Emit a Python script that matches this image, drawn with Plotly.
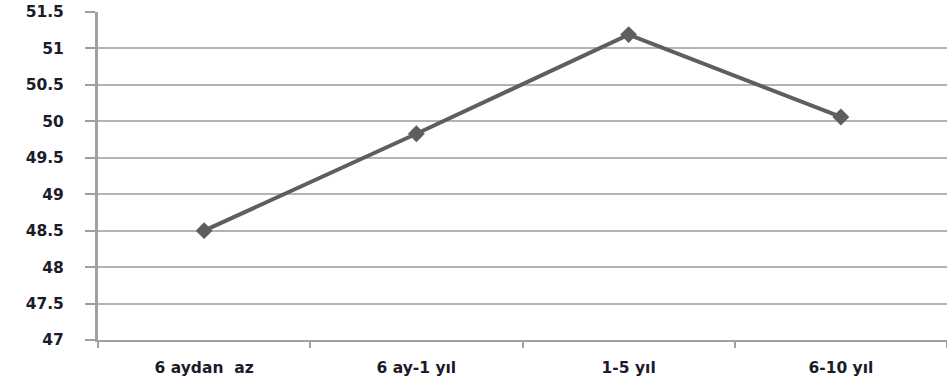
import plotly.graph_objects as go

# Süreye göre ortalama puanlar
categories = ["6 aydan  az", "6 ay-1 yıl", "1-5 yıl", "6-10 yıl"]
values = [48.5, 49.83, 51.19, 50.06]
y_ticks = [47, 47.5, 48, 48.5, 49, 49.5, 50, 50.5, 51, 51.5]
y_tick_text = ["47", "47.5", "48", "48.5", "49", "49.5", "50", "50.5", "51", "51.5"]

fig = go.Figure()
fig.add_trace(go.Scatter(
    x=categories,
    y=values,
    mode="lines+markers",
    line=dict(color="#5e5e5e", width=4),
    marker=dict(symbol="diamond", size=13, color="#5e5e5e"),
    showlegend=False,
    cliponaxis=False,
))

font = dict(family="DejaVu Sans, Verdana, sans-serif", size=15.5, color="#1b1b2a", weight="bold")

fig.update_layout(
    width=947,
    height=378,
    margin=dict(l=98, r=0, t=12, b=38),
    paper_bgcolor="white",
    plot_bgcolor="white",
    font=font,
    xaxis=dict(
        type="category",
        range=[-0.5, 3.5],
        showgrid=False,
        showline=True,
        linecolor="#a0a0a0",
        linewidth=2,
        ticks="outside",
        tickson="boundaries",
        ticklen=6,
        tickwidth=2,
        tickcolor="#a0a0a0",
        tickfont=font,
        ticklabelstandoff=12,
        fixedrange=True,
    ),
    yaxis=dict(
        range=[47, 51.5],
        tickvals=y_ticks,
        ticktext=y_tick_text,
        showgrid=True,
        gridcolor="#b3b3b3",
        gridwidth=2,
        showline=True,
        linecolor="#a0a0a0",
        linewidth=3,
        ticks="outside",
        ticklen=10,
        tickwidth=2,
        tickcolor="#a0a0a0",
        tickfont=font,
        ticklabelstandoff=18,
        zeroline=False,
        fixedrange=True,
    ),
)

fig.write_html("out.html")
